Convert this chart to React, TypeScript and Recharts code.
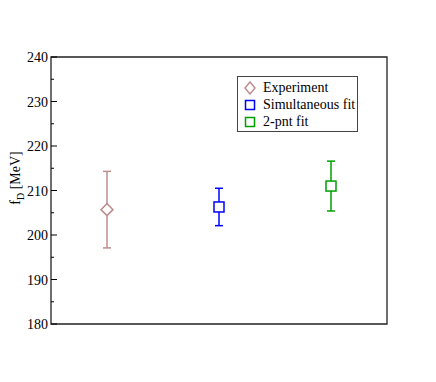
import { ScatterChart, Scatter, XAxis, YAxis, ErrorBar, ReferenceArea } from 'recharts';

const seriesNames = ['Experiment', 'Simultaneous fit', '2-pnt fit'];
const seriesColors = ['#bc8f8f', '#0000ff', '#00a000'];
const xPositions = [1, 2, 3];
const centralValues = [205.7, 206.3, 211.0];
const errors = [8.6, 4.2, 5.6];
const yTicks = [180, 185, 190, 195, 200, 205, 210, 215, 220, 225, 230, 235, 240];

const series = seriesNames.map((name, i) => ({
    name,
    color: seriesColors[i],
    data: [{ x: xPositions[i], y: centralValues[i], err: errors[i] }],
}));

const font = '"Liberation Serif", "Times New Roman", serif';

const Diamond = (props: any) => {
    const { cx, cy, fill } = props;
    const r = 6;
    return (
        <path
            d={`M${cx},${cy - r} L${cx + r},${cy} L${cx},${cy + r} L${cx - r},${cy} Z`}
            fill="white"
            stroke={fill}
            strokeWidth={1.5}
        />
    );
};

const Square = (props: any) => {
    const { cx, cy, fill } = props;
    const r = 5;
    return <rect x={cx - r} y={cy - r} width={2 * r} height={2 * r} fill="white" stroke={fill} strokeWidth={1.5} />;
};

const LeftTick = (props: any) => {
    const { x, y, payload } = props;
    const major = payload.value % 10 === 0;
    return (
        <g>
            <line x1={x} x2={x + (major ? 6 : 3)} y1={y} y2={y} stroke="#000" />
            {major && (
                <text x={x - 3} y={y} dy={5} textAnchor="end" style={{ fontSize: 14, fontFamily: font }} fill="#000">
                    {payload.value}
                </text>
            )}
        </g>
    );
};

const RightTick = (props: any) => {
    const { x, y, payload } = props;
    const major = payload.value % 10 === 0;
    return <line x1={x} x2={x - (major ? 6 : 3)} y1={y} y2={y} stroke="#000" />;
};

const LegendBox = () => (
    <div
        style={{
            position: 'absolute',
            left: 237,
            top: 76,
            width: 121,
            height: 56,
            border: '1px solid #444',
            background: 'white',
            padding: '2px 0 0 6px',
            fontFamily: font,
            fontSize: 14,
            lineHeight: '17px',
            boxSizing: 'border-box',
            whiteSpace: 'nowrap',
        }}
    >
        {series.map((s, i) => (
            <div key={s.name} style={{ display: 'flex', alignItems: 'center' }}>
                <svg width={18} height={14} style={{ marginRight: 1 }}>
                    {i === 0 ? (
                        <path d="M6,1 L11,7 L6,13 L1,7 Z" fill="white" stroke={s.color} strokeWidth={1.5} />
                    ) : (
                        <rect x={1.5} y={2.5} width={9} height={9} fill="white" stroke={s.color} strokeWidth={1.5} />
                    )}
                </svg>
                <span>{s.name}</span>
            </div>
        ))}
    </div>
);

export default function App() {
    return (
        <div style={{ position: 'absolute', left: 0, top: 0, width: 436, height: 382, background: 'white' }}>
            <ScatterChart width={436} height={382} margin={{ top: 57, right: 39, bottom: 58, left: 0 }}>
                <XAxis type="number" dataKey="x" domain={[0.5, 3.5]} hide />
                <YAxis
                    yAxisId="l"
                    type="number"
                    dataKey="y"
                    domain={[180, 240]}
                    ticks={yTicks}
                    interval={0}
                    width={51}
                    tickSize={0}
                    tickMargin={0}
                    axisLine={false}
                    tickLine={false}
                    tick={<LeftTick />}
                />
                <YAxis
                    yAxisId="r"
                    orientation="right"
                    type="number"
                    domain={[180, 240]}
                    ticks={yTicks}
                    interval={0}
                    width={10}
                    tickSize={0}
                    tickMargin={0}
                    axisLine={false}
                    tickLine={false}
                    tick={<RightTick />}
                />
                <ReferenceArea
                    yAxisId="l"
                    x1={0.5}
                    x2={3.5}
                    y1={180}
                    y2={240}
                    fill="none"
                    fillOpacity={0}
                    stroke="#222"
                    strokeWidth={1.3}
                />
                {series.map((s, i) => (
                    <Scatter
                        key={s.name}
                        yAxisId="l"
                        name={s.name}
                        data={s.data}
                        fill={s.color}
                        shape={i === 0 ? <Diamond /> : <Square />}
                        isAnimationActive={false}
                    >
                        <ErrorBar dataKey="err" direction="y" width={4} stroke={s.color} strokeWidth={1.5} />
                    </Scatter>
                ))}
                <text
                    transform="translate(20,178) rotate(-90)"
                    textAnchor="middle"
                    style={{ fontSize: 14, fontFamily: font }}
                    fill="#000"
                >
                    f<tspan fontSize={10} dy={4}>D</tspan>
                    <tspan dy={-4}> [MeV]</tspan>
                </text>
            </ScatterChart>
            <LegendBox />
        </div>
    );
}
